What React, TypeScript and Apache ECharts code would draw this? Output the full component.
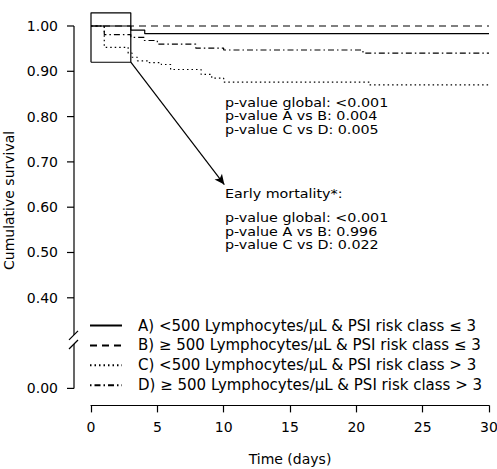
import React, { useEffect, useRef } from "react";
import * as echarts from "echarts";

// ---- data ----
const timesA = [0, 3, 4.05, 30];
const survA = [1, 0.991, 0.983, 0.983];
const timesB = [0, 30];
const survB = [1, 1];
const timesC = [0, 1, 2.8, 3.1, 3.5, 4.4, 5.3, 6.0, 8.3, 9.1, 10, 21, 30];
const survC = [1, 0.953, 0.94, 0.931, 0.923, 0.919, 0.915, 0.904, 0.893, 0.885, 0.876, 0.87, 0.87];
const timesD = [0, 1, 3, 4, 5, 7.9, 10, 20.5, 30];
const survD = [1, 0.981, 0.975, 0.968, 0.96, 0.951, 0.947, 0.94, 0.94];

const seriesNames = [
  "A) <500 Lymphocytes/\u03bcL & PSI risk class \u2264 3",
  "B) \u2265 500 Lymphocytes/\u03bcL & PSI risk class \u2264 3",
  "C) <500 Lymphocytes/\u03bcL & PSI risk class > 3",
  "D) \u2265 500 Lymphocytes/\u03bcL & PSI risk class > 3",
];

// the axis is broken: the tick placed at 0.2 carries the label "0.00"
const yTickValues = [0.2, 0.4, 0.5, 0.6, 0.7, 0.8, 0.9, 1.0];
const yTickLabels = ["0.00", "0.40", "0.50", "0.60", "0.70", "0.80", "0.90", "1.00"];

const zoomBoxTimes = [0, 3, 3, 0, 0];
const zoomBoxSurv = [0.92, 0.92, 1.029, 1.029, 0.92];
const arrowFrom = [3, 0.92];
const arrowTo = [10.05, 0.65];

const pValuesAll = ["p-value global: <0.001", "p-value A vs B: 0.004", "p-value C vs D: 0.005"];
const earlyTitle = "Early mortality*:";
const pValuesEarly = ["p-value global: <0.001", "p-value A vs B: 0.996", "p-value C vs D: 0.022"];

const FONT = "DejaVu Sans, sans-serif";
const FS = 14;

export default function App() {
  const ref = useRef<HTMLDivElement>(null);
  useEffect(() => {
    if (!ref.current) return;
    const chart = echarts.init(ref.current, undefined, { renderer: "svg" });
    const dashTypes: any[] = ["solid", [7, 5], [1.5, 3], [1.5, 3, 6, 3]];
    const allTimes = [timesA, timesB, timesC, timesD];
    const allSurv = [survA, survB, survC, survD];
    const curveSeries = seriesNames.map((name, k) => ({
      name,
      type: "line",
      step: "end",
      symbol: "none",
      color: "#000",
      lineStyle: { color: "#000", width: 1.2, type: dashTypes[k] },
      data: allTimes[k].map((t, i) => [t, allSurv[k][i]]),
      z: 3,
    }));
    const option: any = {
      animation: false,
      backgroundColor: "#fff",
      grid: { left: 91, right: 8, top: 12.4, bottom: 80.6, outerBoundsMode: "none", containLabel: false },
      xAxis: {
        type: "value",
        min: 0,
        max: 30,
        interval: 5,
        offset: 17,
        name: "Time (days)",
        nameLocation: "middle",
        nameGap: 47,
        nameTextStyle: { fontFamily: FONT, fontSize: FS, color: "#000" },
        axisLine: { show: true, lineStyle: { color: "#000", width: 1.2 } },
        axisTick: { show: true, length: 7, lineStyle: { color: "#000", width: 1.2 } },
        axisLabel: { margin: 15, fontFamily: FONT, fontSize: FS, color: "#000" },
        splitLine: { show: false },
      },
      yAxis: {
        type: "value",
        min: 0.2,
        max: 1.03,
        offset: 17,
        name: "Cumulative survival",
        nameLocation: "middle",
        nameGap: 52,
        nameTextStyle: { fontFamily: FONT, fontSize: FS, color: "#000" },
        axisLine: { show: false },
        axisTick: { show: false },
        axisLabel: {
          margin: 16,
          customValues: yTickValues,
          fontFamily: FONT,
          fontSize: FS,
          color: "#000",
          formatter: (v: number) => {
            const i = yTickValues.findIndex((x) => Math.abs(x - v) < 1e-6);
            return i >= 0 ? yTickLabels[i] : "";
          },
        },
        splitLine: { show: false },
      },
      legend: {
        data: seriesNames,
        orient: "vertical",
        left: 89,
        top: 318,
        padding: 0,
        itemWidth: 32,
        itemHeight: 12,
        itemGap: 4.9,
        itemStyle: { opacity: 0 },
        textStyle: { fontFamily: FONT, fontSize: 15, lineHeight: 12, color: "#000", padding: [0, 0, 0, 11] },
      },
      series: [
        ...curveSeries,
        {
          name: "zoom box",
          type: "line",
          symbol: "none",
          color: "#000",
          lineStyle: { color: "#000", width: 1.2 },
          data: zoomBoxTimes.map((t, i) => [t, zoomBoxSurv[i]]),
          clip: false,
          markLine: {
            silent: true,
            animation: false,
            symbol: ["none", "arrow"],
            symbolSize: [7, 10],
            label: { show: false },
            lineStyle: { color: "#000", width: 1.2, type: "solid" },
            data: [[{ coord: arrowFrom }, { coord: arrowTo }]],
          },
        },
      ],
    };
    chart.setOption(option);

    const px = (t: number, v: number) => chart.convertToPixel({ gridIndex: 0 }, [t, v]) as number[];
    const ax = px(0, 1)[0] - 17;
    const yTop = px(0, 1)[1];
    const yBrA = px(0, 0.318)[1];
    const yBrB = px(0, 0.298)[1];
    const yBot = px(0, 0.2)[1];
    const ls = { stroke: "#000", lineWidth: 1.2 };
    const LH = 13.5;
    const textLines = (lines: string[], x: number, yCenterFirst: number) =>
      lines.map((s, i) => ({
        type: "text",
        x,
        y: yCenterFirst + i * LH,
        scaleX: 1.1,
        style: {
          text: s,
          fontFamily: FONT,
          fontSize: 13,
          fill: "#000",
          textVerticalAlign: "middle",
        },
      }));
    const ticks = yTickValues.map((v) => {
      const y = px(0, v)[1];
      return { type: "line", shape: { x1: ax - 7, y1: y, x2: ax, y2: y }, style: ls };
    });
    chart.setOption({
      graphic: [
        { type: "line", shape: { x1: ax, y1: yTop, x2: ax, y2: yBrA }, style: ls },
        { type: "line", shape: { x1: ax, y1: yBrB, x2: ax, y2: yBot }, style: ls },
        { type: "line", shape: { x1: ax - 5, y1: yBrA + 5, x2: ax + 4, y2: yBrA - 4 }, style: ls },
        { type: "line", shape: { x1: ax - 5, y1: yBrB + 5, x2: ax + 4, y2: yBrB - 4 }, style: ls },
        ...ticks,
        ...textLines(pValuesAll, 225, 102),
        ...textLines([earlyTitle], 225, 193.5),
        ...textLines(pValuesEarly, 225, 217.5),
      ],
    });
    return () => chart.dispose();
  }, []);
  return (
    <div
      ref={ref}
      style={{ position: "absolute", left: 0, top: 0, width: 497, height: 469, background: "#fff" }}
    />
  );
}
